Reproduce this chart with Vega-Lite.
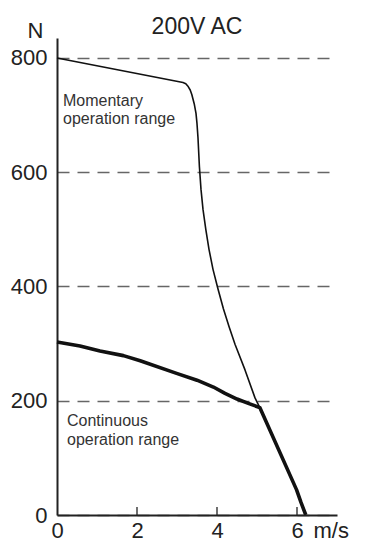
{
  "$schema": "https://vega.github.io/schema/vega-lite/v6.json",
  "width": 280,
  "height": 477,
  "autosize": {"type": "none"},
  "padding": {"left": 57, "top": 38, "right": 55, "bottom": 31},
  "background": "white",
  "title": {"text": "200V AC", "fontSize": 23, "font": "Liberation Sans", "fontWeight": "normal", "color": "#222", "anchor": "middle", "baseline": "alphabetic", "offset": 6, "dy": 44},
  "config": {"view": {"stroke": null}, "font": "Liberation Sans"},
  "datasets": {
    "curves": [
      {"series": "Momentary", "v": 0, "f": 800},
      {"series": "Momentary", "v": 3.15, "f": 757},
      {"series": "Momentary", "v": 3.22, "f": 755},
      {"series": "Momentary", "v": 3.28, "f": 750},
      {"series": "Momentary", "v": 3.33, "f": 744},
      {"series": "Momentary", "v": 3.37, "f": 736},
      {"series": "Momentary", "v": 3.43, "f": 720},
      {"series": "Momentary", "v": 3.475, "f": 703},
      {"series": "Momentary", "v": 3.5, "f": 685},
      {"series": "Momentary", "v": 3.525, "f": 660},
      {"series": "Momentary", "v": 3.56, "f": 610},
      {"series": "Momentary", "v": 3.6, "f": 570},
      {"series": "Momentary", "v": 3.65, "f": 535},
      {"series": "Momentary", "v": 3.72, "f": 500},
      {"series": "Momentary", "v": 3.8, "f": 465},
      {"series": "Momentary", "v": 3.9, "f": 430},
      {"series": "Momentary", "v": 4.02, "f": 397},
      {"series": "Momentary", "v": 4.16, "f": 361},
      {"series": "Momentary", "v": 4.3, "f": 330},
      {"series": "Momentary", "v": 4.45, "f": 299},
      {"series": "Momentary", "v": 4.7, "f": 254},
      {"series": "Momentary", "v": 4.95, "f": 205},
      {"series": "Momentary", "v": 5.07, "f": 188},
      {"series": "Continuous", "v": 0, "f": 303},
      {"series": "Continuous", "v": 0.575, "f": 296},
      {"series": "Continuous", "v": 1.075, "f": 287},
      {"series": "Continuous", "v": 1.66, "f": 279},
      {"series": "Continuous", "v": 2.08, "f": 270},
      {"series": "Continuous", "v": 2.99, "f": 248},
      {"series": "Continuous", "v": 3.5, "f": 236},
      {"series": "Continuous", "v": 3.91, "f": 224},
      {"series": "Continuous", "v": 4.2, "f": 213},
      {"series": "Continuous", "v": 4.5, "f": 203},
      {"series": "Continuous", "v": 4.8, "f": 195},
      {"series": "Continuous", "v": 5.07, "f": 188},
      {"series": "Continuous", "v": 5.99, "f": 44},
      {"series": "Continuous", "v": 6.1, "f": 22},
      {"series": "Continuous", "v": 6.22, "f": 0}
    ],
    "notes": [
      {"v": 0.15, "f": 716, "label": "Momentary"},
      {"v": 0.15, "f": 684, "label": "operation range"},
      {"v": 0.25, "f": 156, "label": "Continuous"},
      {"v": 0.25, "f": 122, "label": "operation range"}
    ],
    "ticks": [
      {"v": 2, "f0": 0, "f1": 14},
      {"v": 4, "f0": 0, "f1": 14},
      {"v": 6, "f0": 0, "f1": 14}
    ]
  },
  "layer": [
    {
      "data": {"name": "curves"},
      "transform": [{"filter": "datum.series === 'Momentary'"}],
      "mark": {"type": "line", "color": "#111", "strokeWidth": 1.6, "interpolate": "linear", "strokeJoin": "round"},
      "encoding": {
        "x": {"field": "v", "type": "quantitative", "scale": {"domain": [0, 7], "nice": false},
          "axis": {"values": [0, 2, 4, 6], "title": "m/s", "titleAlign": "left", "titleBaseline": "alphabetic", "titleX": 256, "titleY": 22, "titleFontSize": 22, "titleFontWeight": "normal", "titleColor": "#222", "titleFont": "Liberation Sans",
            "labelFontSize": 22, "labelColor": "#222", "labelFont": "Liberation Sans", "labelPadding": 5, "ticks": false, "domainColor": "#222", "domainWidth": 2, "grid": false, "zindex": 1, "labelFlush": false}},
        "y": {"field": "f", "type": "quantitative", "scale": {"domain": [0, 835], "nice": false},
          "axis": {"values": [0, 200, 400, 600, 800], "title": "N", "titleAngle": 0, "titleAlign": "center", "titleBaseline": "alphabetic", "titleX": -22, "titleY": -1, "titleFontSize": 22, "titleFontWeight": "normal", "titleColor": "#222", "titleFont": "Liberation Sans",
            "labelFontSize": 22, "labelColor": "#222", "labelFont": "Liberation Sans", "labelPadding": 10, "ticks": false, "domainColor": "#222", "domainWidth": 2, "grid": true, "gridColor": "#666", "gridDash": [12, 8], "gridWidth": 1.3, "zindex": 0, "labelFlush": false}}
      }
    },
    {
      "data": {"name": "curves"},
      "transform": [{"filter": "datum.series === 'Continuous'"}],
      "mark": {"type": "line", "color": "#111", "strokeWidth": 3.6, "interpolate": "linear", "strokeJoin": "round"},
      "encoding": {
        "x": {"field": "v", "type": "quantitative"},
        "y": {"field": "f", "type": "quantitative"}
      }
    },
    {
      "data": {"name": "ticks"},
      "mark": {"type": "rule", "color": "#222", "strokeWidth": 1.3},
      "encoding": {
        "x": {"field": "v", "type": "quantitative"},
        "y": {"field": "f0", "type": "quantitative"},
        "y2": {"field": "f1"}
      }
    },
    {
      "data": {"name": "notes"},
      "mark": {"type": "text", "align": "left", "baseline": "alphabetic", "fontSize": 16, "color": "#333", "font": "Liberation Sans"},
      "encoding": {
        "x": {"field": "v", "type": "quantitative"},
        "y": {"field": "f", "type": "quantitative"},
        "text": {"field": "label"}
      }
    }
  ]
}
